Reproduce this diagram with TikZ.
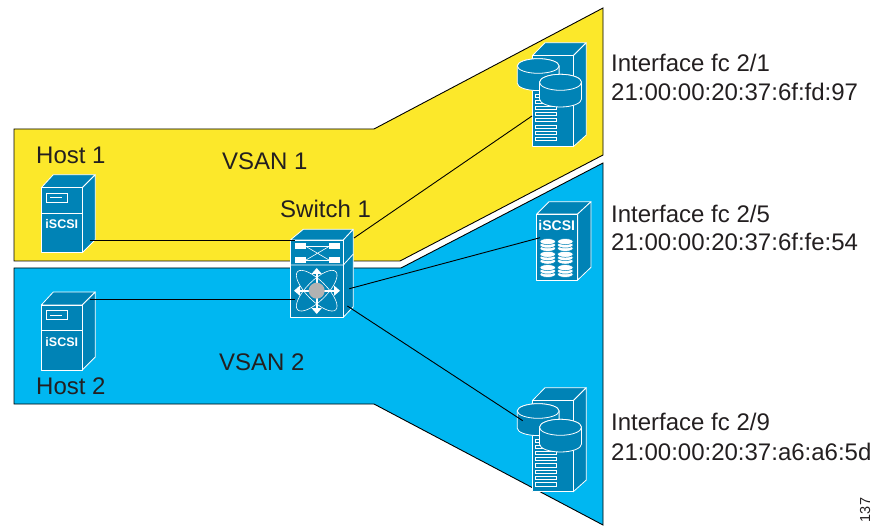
\documentclass[tikz,border=0pt]{standalone}
\usepackage{fontspec}
\setmainfont{Liberation Sans}
\usetikzlibrary{arrows.meta}
\definecolor{vsanyellow}{HTML}{FCE82A}
\definecolor{vsanblue}{HTML}{00B7F1}
\definecolor{iconblue}{HTML}{0083B6}
\definecolor{inktext}{HTML}{231F20}
\tikzset{
  icon/.style={draw=white, fill=iconblue, line width=.8pt, line join=round},
  label/.style={inner sep=0pt, anchor=base west, text=inktext, font=\fontsize{24}{28}\selectfont},
  link/.style={draw=black, line width=.9pt},
  pics/hostbox/.style={code={
    \draw[icon] (0,0) -- (12,-13) -- (54,-13) -- (41,0) -- cycle;
    \draw[icon] (41,0) -- (54,-13) -- (54,52) -- (41,65) -- cycle;
    \draw[icon] (0,0) rectangle (41,65);
    \draw[draw=white, line width=.8pt] (0,25.5) -- (41,25.5);
    \draw[draw=white, line width=.8pt] (5,5.5) rectangle (26.5,14.5);
    \draw[draw=white, line width=.8pt] (9,10) -- (21,10);
    \node[inner sep=0pt, text=white, font=\fontsize{12.5}{14}\bfseries\selectfont] (-name) at (20.5,36.8) {iSCSI};
  }},
  pics/dbtower/.style={code={
    \draw[icon] (0,0) -- (12.7,-13) -- (54,-13) -- (41,0) -- cycle;
    \draw[icon] (41,0) -- (54,-13) -- (54,79.3) -- (41,91) -- cycle;
    \draw[icon] (0,0) rectangle (41,91);
    \foreach \slot in {40.3,46,52,58.3,64.6,71,77.3,83.6}
      \draw[draw=white, line width=.8pt] (3.4,\slot-1.6) rectangle (24.4,\slot+1.6);
    \draw[icon] (-15,10.3) -- (-15,27.6) arc[start angle=180, end angle=360, x radius=20.9, y radius=-7.3]
      -- (26.8,10.3) arc[start angle=0, end angle=180, x radius=20.9, y radius=-7.3] -- cycle;
    \draw[icon] (5.9,10.3) ellipse[x radius=20.9, y radius=7.3];
    \draw[icon] (7.2,26.6) -- (7.2,43.3) arc[start angle=180, end angle=360, x radius=21, y radius=-8]
      -- (49.2,26.6) arc[start angle=0, end angle=180, x radius=21, y radius=-8] -- cycle;
    \draw[icon] (28.2,26.6) ellipse[x radius=21, y radius=8];
  }},
  pics/diskarray/.style={code={
    \draw[icon] (0,0) -- (12.3,-12.3) -- (54.3,-12.3) -- (41,0) -- cycle;
    \draw[icon] (41,0) -- (54.3,-12.3) -- (54.3,53.3) -- (41,66) -- cycle;
    \draw[icon] (0,0) rectangle (41,66);
    \node[inner sep=0pt, text=white, font=\fontsize{14}{16}\bfseries\selectfont] (-name) at (20,11.7) {iSCSI};
    \foreach \col in {11,28.6}
      \foreach \row in {31,43.7,57}
        \foreach \lift in {3.4,0,-3.4}
          \draw[draw=iconblue, fill=white, line width=.5pt] (\col,\row+\lift) ellipse[x radius=7.8, y radius=3];
  }},
}
\begin{document}
\begin{tikzpicture}[x=1pt,y=-1pt]
      \useasboundingbox (0,0) rectangle (875,529);
      % VSAN regions
      \draw[fill=vsanyellow, draw=black, line width=.9pt] (14,129) -- (374,129) -- (603,8) -- (603,155)
        -- (400,261) -- (14,261) -- cycle;
      \draw[fill=vsanblue, draw=black, line width=.9pt] (14,268) -- (401,268) -- (603,163) -- (603,525)
        -- (374,404) -- (14,404) -- cycle;
      % devices
      \pic (host1) at (41.3,187.7) {hostbox};
      \pic (host2) at (41.3,305) {hostbox};
      \pic (disk1) at (532.3,55.7) {dbtower};
      \pic (disk2) at (536.7,214) {diskarray};
      \pic (disk3) at (532.3,400.7) {dbtower};
      % Switch 1
      \draw[icon] (290.3,240) -- (303.3,229.3) -- (353.3,229.3) -- (343.3,240) -- cycle;
      \draw[icon] (343.3,240) -- (353.3,229.3) -- (353.3,306.7) -- (343.3,317.3) -- cycle;
      \draw[icon] (290.3,240) rectangle (343.3,317.3);
      \draw[draw=white, line width=.8pt] (290.3,265) -- (343.3,265) -- (353.3,254);
      \foreach \px/\py in {295/243.3,329/243.3,295/257,329/257}
        \fill[white] (\px,\py) rectangle +(11,5.8);
      \draw[draw=white, line width=.6pt] (306,246.5) -- (329,260) (306,260) -- (329,246.5);
      \draw[draw=white, line width=.6pt] (306,246.5) -- (329,246.5) (306,260) -- (329,260);
      \foreach \tilt in {45,-45}
        \draw[draw=white, line width=.6pt, rotate around={\tilt:(316.7,290.7)}] (316.7,290.7) ellipse[x radius=27, y radius=10];
      \foreach \tipx/\tipy in {316.7/268,316.7/314,294/290.7,340/290.7}
        \draw[draw=white, line width=2pt, -{Triangle[length=6pt,width=10pt]}] (316.7,290.7) -- (\tipx,\tipy);
      \fill[black!30] (316.7,290.7) circle[radius=8];
      % connector ends
      \coordinate (host1port) at (90,240.5);
      \coordinate (host2port) at (90,299);
      \coordinate (sw1a) at (295,240.5);
      \coordinate (sw1b) at (295,299);
      \coordinate (sw1c) at (354,238);
      \coordinate (sw1d) at (349.3,288.7);
      \coordinate (sw1e) at (347.3,306);
      \coordinate (disk1port) at (532,116);
      \coordinate (disk2port) at (540,237.7);
      \coordinate (disk3port) at (522.7,420.7);
      \draw[link] (host1port) -- (sw1a);
      \draw[link] (host2port) -- (sw1b);
      \draw[link] (sw1c) -- (disk1port);
      \draw[link] (sw1d) -- (disk2port);
      \draw[link] (sw1e) -- (disk3port);
      % labels
      \node[label] (host1label) at (36,164) {Host 1};
      \node[label] (host2label) at (36,394) {Host 2};
      \node[label] (vsan1label) at (222,170) {VSAN 1};
      \node[label] (vsan2label) at (219,370) {VSAN 2};
      \node[label] (sw1label) at (280,218) {Switch 1};
      \node[label] (if1a) at (611,72) {Interface fc 2/1};
      \node[label] (if1b) at (611,101) {21:00:00:20:37:6f:fd:97};
      \node[label] (if2a) at (611,222.5) {Interface fc 2/5};
      \node[label] (if2b) at (611,251) {21:00:00:20:37:6f:fe:54};
      \node[label] (if3a) at (611,430) {Interface fc 2/9};
      \node[label] (if3b) at (611,460) {21:00:00:20:37:a6:a6:5d};
      \node[inner sep=0pt, rotate=90, text=inktext, font=\fontsize{14.5}{16}\selectfont] (figid) at (865,510) {137};
      \end{tikzpicture}
\end{document}
